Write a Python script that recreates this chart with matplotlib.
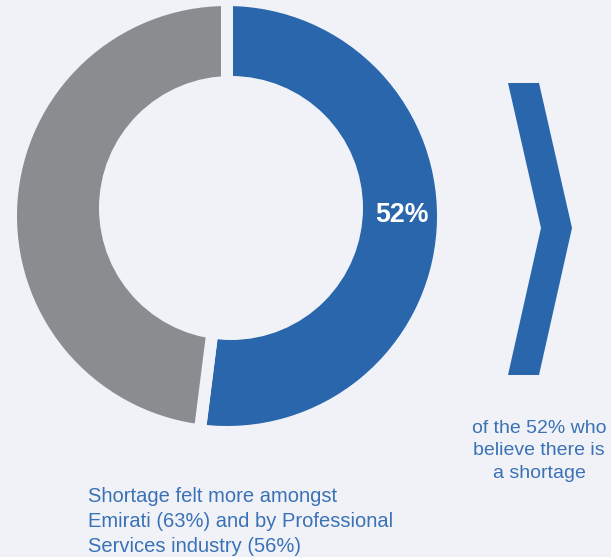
import matplotlib.pyplot as plt
from matplotlib.patches import Polygon, Circle

W, H = 611, 557

# share of respondents who believe there is a shortage
labels = ["Shortage", "No shortage"]
values = [52, 48]

side_note = "of the 52% who\nbelieve there is\na shortage"
footnote = "Shortage felt more amongst\nEmirati (63%) and by Professional\nServices industry (56%)"

bg = "#f0f2f8"
blue = "#2966ab"
gray = "#8b8c90"
text_blue = "#3a72b5"

plt.rcParams["font.family"] = ["Liberation Sans", "DejaVu Sans"]

fig = plt.figure(figsize=(W / 100, H / 100), dpi=100, facecolor=bg)
ax = fig.add_axes([0, 0, 1, 1])
ax.set_facecolor(bg)

# pie in pixel units; the background-coloured edge makes the gaps
cx, cy = 227, H - 216
gap = 12
ax.pie(values, colors=[blue, gray], startangle=90, counterclock=False,
       center=(cx, cy), radius=210 + gap / 2,
       wedgeprops=dict(edgecolor=bg, linewidth=gap * 0.72))
# hole of the donut (sits a little up and right of the pie centre)
ax.add_patch(Circle((231, H - 208), 132, facecolor=bg, edgecolor="none", zorder=3))

ax.text(402, H - 214.5, f"{values[0]}%", color="white", fontsize=19.3,
        fontweight="bold", ha="center", va="center", zorder=4)

# chevron arrow
chevron = [(508, 83), (539, 83), (572, 228), (539, 375), (508, 375), (541, 228)]
ax.add_patch(Polygon([(x, H - y) for x, y in chevron], closed=True,
                     facecolor=blue, edgecolor="none"))

ax.text(539, H - 478, side_note, color=text_blue, fontsize=14,
        ha="center", va="baseline", multialignment="center", linespacing=1.44)

ax.text(88, H - 552, footnote, color=text_blue, fontsize=14.5,
        ha="left", va="baseline", linespacing=1.4)

ax.set_xlim(0, W)
ax.set_ylim(0, H)
ax.set_aspect("equal")
ax.axis("off")

fig.savefig("out.png", dpi=100, facecolor=bg)
